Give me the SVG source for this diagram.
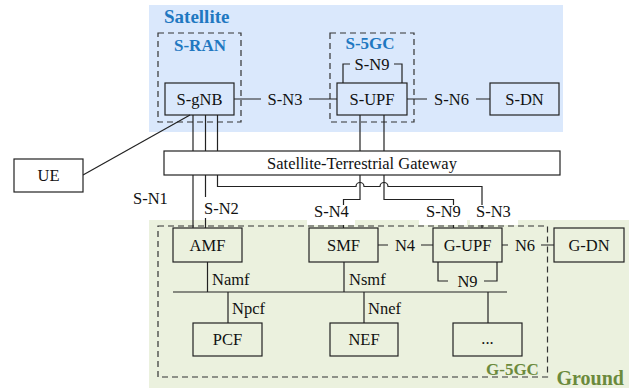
<svg xmlns="http://www.w3.org/2000/svg" width="629" height="390" viewBox="0 0 629 390">
<style>
.t{font-family:"Liberation Serif","Times New Roman",serif;font-size:16.5px;fill:#111}
.m{text-anchor:middle}
.bb{font-family:"Liberation Serif","Times New Roman",serif;font-weight:bold}
.blue{fill:#1f78c1}
.olive{fill:#6b8a3c}
.box{fill:none;stroke:#222;stroke-width:1.2}
.wbox{fill:#fff;stroke:#222;stroke-width:1.2}
.dash{fill:none;stroke:#333;stroke-width:1.2;stroke-dasharray:6 4}
.ln{fill:none;stroke:#222;stroke-width:1.2}
.lbg{fill:#fff}
</style>
<rect width="629" height="390" fill="#fff"/>
<g id="regions">
<rect x="149" y="5" width="414" height="127" fill="#dae8fc"/>
<rect x="149" y="220" width="480" height="168" fill="#ebf1de"/>
<text class="bb blue" x="164" y="22.5" font-size="19">Satellite</text>
<text class="bb olive" x="556.5" y="385" font-size="20">Ground</text>
</g>
<g id="groups">
<rect id="s-ran" class="dash" x="158" y="33" width="83" height="89"/>
<text class="bb blue" x="174" y="50.5" font-size="17">S-RAN</text>
<rect id="s-5gc" class="dash" x="330" y="33" width="84" height="89"/>
<text class="bb blue" x="345.5" y="49" font-size="17">S-5GC</text>
<rect id="g-5gc" class="dash" x="158" y="226" width="389.5" height="151"/>
<text class="bb olive" x="486" y="375" font-size="17">G-5GC</text>
</g>
<g id="connectors">
<!-- S-N3 satellite -->
<path class="ln" d="M234,99H261M309,99H337"/>
<text class="t m" x="285" y="104.5">S-N3</text>
<!-- S-N6 -->
<path class="ln" d="M407,99H427M476,99H490"/>
<text class="t m" x="451.5" y="104.5">S-N6</text>
<!-- S-N9 loop -->
<path class="ln" d="M343,83V64H350M394,64H402V83"/>
<text class="t m" x="372" y="69.5">S-N9</text>
<!-- UE to S-gNB -->
<path class="ln" d="M83,175L190,115"/>
<!-- gNB verticals -->
<path class="ln" d="M193,115V228"/>
<path class="ln" d="M205.5,115V228"/>
<path class="ln" d="M217.5,115V186.5H356A4,4 0 0 1 364,186.5H380A4,4 0 0 1 388,186.5H482V228"/>
<!-- S-UPF verticals -->
<path class="ln" d="M360,115V199.5H343.5V228"/>
<path class="ln" d="M384,115V199.5H453.5V228"/>
<!-- labels -->
<text class="t" x="133" y="204">S-N1</text>
<rect class="lbg" x="201" y="197" width="42" height="21"/>
<text class="t" x="204" y="214">S-N2</text>
<rect class="lbg" x="307" y="205" width="48" height="20"/>
<text class="t" x="314" y="217">S-N4</text>
<rect class="lbg" x="419" y="205" width="48" height="20"/>
<text class="t" x="426" y="217">S-N9</text>
<rect class="lbg" x="470" y="205" width="48" height="20"/>
<text class="t" x="476" y="217">S-N3</text>
<!-- ground -->
<path class="ln" d="M378,245H388M421,245H433"/>
<text class="t m" x="405" y="250.5">N4</text>
<path class="ln" d="M502,245H508M541,245H554"/>
<text class="t m" x="525" y="250.5">N6</text>
<path class="ln" d="M438,262V281H448M484,281H497V262"/>
<text class="t m" x="467.5" y="286.5">N9</text>
<path class="ln" d="M173,292H507"/>
<path class="ln" d="M207.5,262V292"/>
<text class="t" x="212" y="285">Namf</text>
<path class="ln" d="M344,262V292"/>
<text class="t" x="349" y="285">Nsmf</text>
<path class="ln" d="M228,292V323"/>
<text class="t" x="232" y="314">Npcf</text>
<path class="ln" d="M364,292V323"/>
<text class="t" x="368" y="314">Nnef</text>
<path class="ln" d="M488,292V323"/>
</g>
<g id="n-sgnb"><rect class="box" x="165" y="83" width="69" height="32"/><text class="t m" x="199.5" y="105">S-gNB</text></g>
<g id="n-supf"><rect class="box" x="337" y="83" width="70" height="32"/><text class="t m" x="372" y="105">S-UPF</text></g>
<g id="n-sdn"><rect class="box" x="490" y="83" width="69" height="32"/><text class="t m" x="524.5" y="105">S-DN</text></g>
<g id="n-ue"><rect class="wbox" x="14" y="159" width="69" height="33"/><text class="t m" x="48.5" y="181">UE</text></g>
<g id="n-gateway"><rect class="wbox" x="164" y="151" width="396" height="24"/><text class="t m" x="362" y="168.5">Satellite-Terrestrial Gateway</text></g>
<g id="n-amf"><rect class="box" x="173" y="228" width="69" height="34"/><text class="t m" x="207.5" y="251">AMF</text></g>
<g id="n-smf"><rect class="box" x="309" y="228" width="69" height="34"/><text class="t m" x="343.5" y="251">SMF</text></g>
<g id="n-gupf"><rect class="box" x="433" y="228" width="69" height="34"/><text class="t m" x="467.5" y="251">G-UPF</text></g>
<g id="n-gdn"><rect class="box" x="554" y="228" width="70" height="34"/><text class="t m" x="589" y="251">G-DN</text></g>
<g id="n-pcf"><rect class="box" x="193" y="323" width="69" height="33"/><text class="t m" x="227.5" y="345">PCF</text></g>
<g id="n-nef"><rect class="box" x="330" y="323" width="68" height="33"/><text class="t m" x="364" y="345">NEF</text></g>
<g id="n-more"><rect class="box" x="453" y="323" width="69" height="33"/><text class="t m" x="487.5" y="344">...</text></g>
</svg>
